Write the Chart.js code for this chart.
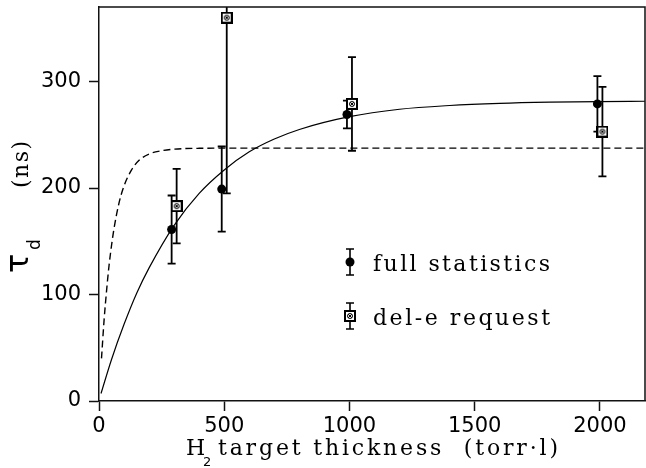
<!DOCTYPE html>
<html lang="en">
<head>
<meta charset="UTF-8">
<title>Delay time vs H2 target thickness</title>
<script src="https://cdn.jsdelivr.net/npm/chart.js"></script>
<style>
  body { margin: 0; background: #fff; }
  canvas { display: block; }
</style>
</head>
<body>
<canvas id="tauChart" width="646" height="468"></canvas>

<script>
  // measured points: x = target thickness (torr·l), y = tau_d (ns), symmetric errors
  const fullX = [290, 490, 990, 1990];
  const fullY = [161, 199, 269, 279];
  const fullErr = [32, 40, 13, 26];

  const delX = [310, 510, 1010, 2010];
  const delY = [183, 360, 279, 253];
  const delErr = [35, 165, 44, 42];

  // fit curves (solid: full statistics, dashed: second fit)
  const solidX = [8, 50, 100, 150, 200, 300, 400, 500, 600, 700, 800, 1000, 1200, 1400, 1600, 1800, 2000, 2180];
  const solidY = [7, 39, 72, 101, 125, 165, 195, 217, 234, 246, 255, 267, 274, 277.5, 279.5, 280.6, 281.2, 281.5];

  const dashX = [10, 20, 30, 40, 50, 60, 80, 100, 130, 160, 200, 250, 300, 400, 600, 1000, 1500, 2180];
  const dashY = [40, 75, 103, 127, 146, 162, 186, 202, 217, 226, 232, 235, 236.5, 237.3, 237.5, 237.5, 237.5, 237.5];

  const xTicks = [0, 500, 1000, 1500, 2000];
  const yTicks = [0, 100, 200, 300];

  const toPts = (xs, ys) => xs.map((x, i) => ({ x: x, y: ys[i] }));

  // open square with a circled cross, used for the del-e points
  function crossBox() {
    const c = document.createElement('canvas');
    c.width = 12; c.height = 12;
    const g = c.getContext('2d');
    g.fillStyle = '#000';
    g.fillRect(0, 0, 12, 12);
    g.fillStyle = '#fff';
    g.fillRect(2, 2, 8, 8);
    g.strokeStyle = '#000';
    g.lineWidth = 1;
    g.beginPath();
    g.arc(6, 6, 2.5, 0, Math.PI * 2);
    g.moveTo(4.2, 4.2); g.lineTo(7.8, 7.8);
    g.moveTo(7.8, 4.2); g.lineTo(4.2, 7.8);
    g.stroke();
    return c;
  }
  const boxMark = crossBox();

  // draw text stretched to a given width with even letter spacing
  function spacedText(ctx, text, x, y, width) {
    ctx.letterSpacing = '0px';
    const w = ctx.measureText(text).width;
    const sp = (width - w) / Math.max(text.length - 1, 1);
    ctx.letterSpacing = sp + 'px';
    ctx.fillText(text, x, y);
    ctx.letterSpacing = '0px';
  }

  function errBar(ctx, xs, ys, x, lo, hi, cap) {
    const px = xs.getPixelForValue(x);
    const p1 = ys.getPixelForValue(lo);
    const p2 = ys.getPixelForValue(hi);
    ctx.beginPath();
    ctx.moveTo(px, p1); ctx.lineTo(px, p2);
    ctx.moveTo(px - cap, p1); ctx.lineTo(px + cap, p1);
    ctx.moveTo(px - cap, p2); ctx.lineTo(px + cap, p2);
    ctx.stroke();
  }

  const errorBars = {
    id: 'errorBars',
    beforeDatasetsDraw(chart) {
      const { ctx, chartArea: a, scales: { x, y } } = chart;
      ctx.save();
      ctx.beginPath();
      ctx.rect(a.left, a.top, a.right - a.left, a.bottom - a.top);
      ctx.clip();
      ctx.strokeStyle = '#000';
      ctx.lineWidth = 1.8;
      fullX.forEach((v, i) => errBar(ctx, x, y, v, fullY[i] - fullErr[i], fullY[i] + fullErr[i], 4));
      delX.forEach((v, i) => errBar(ctx, x, y, v, delY[i] - delErr[i], delY[i] + delErr[i], 4));
      ctx.restore();
    }
  };

  const decorations = {
    id: 'decorations',
    afterDraw(chart) {
      const { ctx, chartArea: a } = chart;
      ctx.save();
      ctx.strokeStyle = '#111';
      ctx.lineWidth = 1.5;
      ctx.beginPath();
      ctx.moveTo(a.left, a.top); ctx.lineTo(a.right, a.top); ctx.lineTo(a.right, a.bottom);
      ctx.stroke();

      ctx.fillStyle = '#000';
      ctx.strokeStyle = '#000';
      ctx.textBaseline = 'alphabetic';
      ctx.textAlign = 'left';

      // legend
      const lx = 350;
      ctx.lineWidth = 1.6;
      [[262, 'full statistics'], [316, 'del-e request']].forEach(([ly, label], k) => {
        ctx.beginPath();
        ctx.moveTo(lx, ly - 13); ctx.lineTo(lx, ly + 13);
        ctx.moveTo(lx - 4, ly - 13); ctx.lineTo(lx + 4, ly - 13);
        ctx.moveTo(lx - 4, ly + 13); ctx.lineTo(lx + 4, ly + 13);
        ctx.stroke();
        if (k === 0) {
          ctx.beginPath();
          ctx.arc(lx, ly, 4.5, 0, Math.PI * 2);
          ctx.fill();
        } else {
          ctx.drawImage(boxMark, lx - 6, ly - 6);
        }
        ctx.font = '22px "DejaVu Serif"';
        spacedText(ctx, label, 373, ly + 9, 177);
      });

      // x axis title with subscript
      ctx.font = '22px "DejaVu Serif"';
      ctx.fillText('H', 186, 455);
      ctx.font = '13px "DejaVu Sans"';
      ctx.fillText('2', 203, 466);
      ctx.font = '22px "DejaVu Serif"';
      spacedText(ctx, 'target thickness  (torr\u00b7l)', 218, 455, 340);

      // y axis title, rotated
      ctx.save();
      ctx.translate(28, 273);
      ctx.rotate(-Math.PI / 2);
      ctx.font = '32px "DejaVu Sans"';
      ctx.fillText('\u03c4', 0, 0);
      ctx.restore();
      ctx.save();
      ctx.translate(40, 250);
      ctx.rotate(-Math.PI / 2);
      ctx.font = '17px "DejaVu Sans"';
      ctx.fillText('d', 0, 0);
      ctx.restore();
      ctx.save();
      ctx.translate(28, 188);
      ctx.rotate(-Math.PI / 2);
      ctx.font = '22px "DejaVu Serif"';
      spacedText(ctx, '(ns)', 0, 0, 47);
      ctx.restore();
      ctx.restore();
    }
  };

  new Chart(document.getElementById('tauChart'), {
    type: 'scatter',
    data: {
      datasets: [
        {
          type: 'line',
          data: toPts(solidX, solidY),
          borderColor: '#000',
          borderWidth: 1.2,
          pointRadius: 0,
          cubicInterpolationMode: 'monotone',
          fill: false
        },
        {
          type: 'line',
          data: toPts(dashX, dashY),
          borderColor: '#000',
          borderWidth: 1.4,
          borderDash: [7, 4],
          pointRadius: 0,
          cubicInterpolationMode: 'monotone',
          fill: false
        },
        {
          data: toPts(fullX, fullY),
          pointStyle: 'circle',
          pointRadius: 4.5,
          backgroundColor: '#000',
          borderColor: '#000',
          borderWidth: 0
        },
        {
          data: toPts(delX, delY),
          pointStyle: boxMark,
          pointRadius: 6
        }
      ]
    },
    options: {
      responsive: false,
      animation: false,
      layout: { autoPadding: false, padding: { top: 7, right: 1, left: 0, bottom: 0 } },
      plugins: { legend: { display: false }, tooltip: { enabled: false } },
      scales: {
        x: {
          type: 'linear',
          min: 0,
          max: 2180,
          afterBuildTicks: s => { s.ticks = xTicks.map(v => ({ value: v })); },
          afterFit: s => { s.height = 67; s.paddingLeft = 0; s.paddingRight = 0; },
          border: { color: '#111', width: 1.5 },
          grid: { drawOnChartArea: false, tickLength: 10, tickColor: '#111', tickWidth: 1.5 },
          ticks: { color: '#000', padding: 3, callback: v => String(v), font: { family: 'DejaVu Sans', size: 21 } }
        },
        y: {
          min: 0,
          max: 370,
          afterBuildTicks: s => { s.ticks = yTicks.map(v => ({ value: v })); },
          afterFit: s => { s.width = 99; s.paddingTop = 0; s.paddingBottom = 0; },
          border: { color: '#111', width: 1.5 },
          grid: { drawOnChartArea: false, tickLength: 10, tickColor: '#111', tickWidth: 1.5 },
          ticks: { color: '#000', padding: 8, callback: v => String(v), font: { family: 'DejaVu Sans', size: 21 } }
        }
      }
    },
    plugins: [errorBars, decorations]
  });
</script>
</body>
</html>
